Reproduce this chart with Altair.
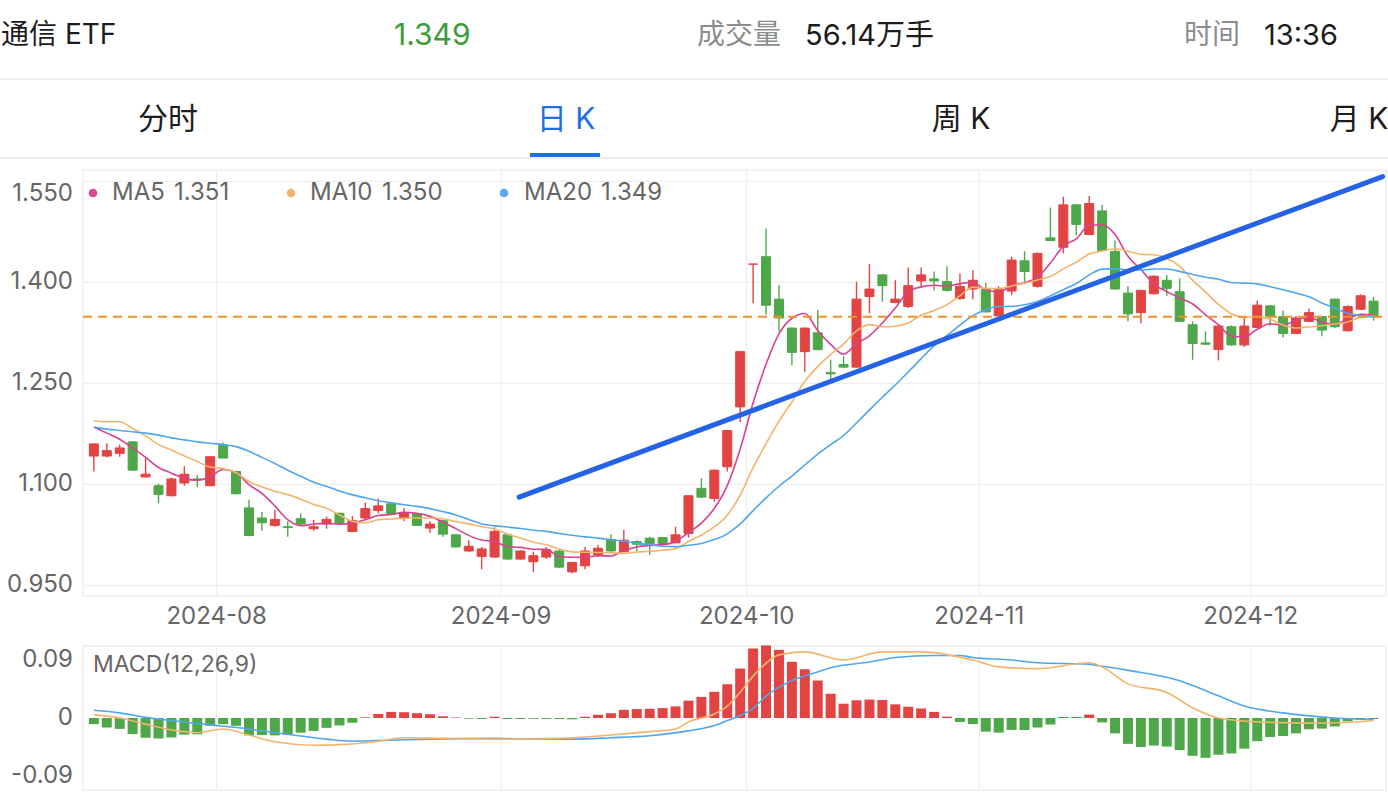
import altair as alt
import pandas as pd

W, H = 1388, 792
FONT = "Inter, Noto Sans CJK SC, sans-serif"
RED = "#e24343"
GREEN = "#4ea84a"
GRID = "#ebebeb"
LABEL = "#666666"

# ---------------- data ----------------
opens = [1.142, 1.142, 1.146, 1.163, 1.111, 1.098, 1.083, 1.102, 1.108, 1.098,
         1.158, 1.119, 1.065, 1.050, 1.039, 1.037, 1.049, 1.034, 1.041, 1.057,
         1.030, 1.050, 1.061, 1.071, 1.050, 1.056, 1.035, 1.046, 1.025, 1.001,
         0.993, 0.992, 1.025, 0.989, 0.985, 0.992, 1.001, 0.970, 0.979, 0.995,
         1.018, 1.000, 1.015, 1.020, 1.021, 1.013, 1.027, 1.094, 1.079, 1.126,
         1.215, 1.427, 1.438, 1.375, 1.332, 1.297, 1.325, 1.266, 1.278, 1.274,
         1.379, 1.411, 1.370, 1.364, 1.402, 1.405, 1.401, 1.376, 1.390, 1.389,
         1.350, 1.387, 1.432, 1.394, 1.466, 1.452, 1.515, 1.471, 1.506, 1.446,
         1.384, 1.355, 1.383, 1.403, 1.386, 1.337, 1.310, 1.300, 1.334, 1.307,
         1.333, 1.365, 1.349, 1.324, 1.342, 1.349, 1.375, 1.328, 1.360, 1.372]
highs = [1.160, 1.161, 1.159, 1.164, 1.139, 1.101, 1.110, 1.127, 1.114, 1.141,
         1.162, 1.120, 1.077, 1.059, 1.062, 1.045, 1.057, 1.047, 1.052, 1.058,
         1.053, 1.073, 1.079, 1.072, 1.065, 1.057, 1.045, 1.047, 1.026, 1.017,
         1.007, 1.036, 1.027, 1.002, 1.000, 1.007, 1.003, 0.984, 1.007, 1.010,
         1.026, 1.032, 1.017, 1.022, 1.022, 1.037, 1.083, 1.109, 1.122, 1.180,
         1.297, 1.427, 1.480, 1.396, 1.333, 1.333, 1.359, 1.285, 1.290, 1.401,
         1.427, 1.412, 1.403, 1.422, 1.422, 1.416, 1.424, 1.413, 1.418, 1.399,
         1.394, 1.438, 1.446, 1.444, 1.511, 1.527, 1.516, 1.528, 1.515, 1.462,
         1.394, 1.388, 1.410, 1.411, 1.406, 1.342, 1.327, 1.336, 1.336, 1.347,
         1.373, 1.366, 1.358, 1.350, 1.361, 1.350, 1.376, 1.366, 1.382, 1.378]
lows = [1.119, 1.140, 1.141, 1.121, 1.110, 1.072, 1.082, 1.098, 1.096, 1.097,
        1.139, 1.085, 1.023, 1.031, 1.037, 1.022, 1.038, 1.031, 1.034, 1.041,
        1.029, 1.049, 1.057, 1.054, 1.045, 1.038, 1.028, 1.022, 1.006, 1.000,
        0.974, 0.991, 0.988, 0.988, 0.970, 0.989, 0.976, 0.968, 0.974, 0.992,
        1.000, 0.999, 1.001, 0.995, 1.010, 1.013, 1.021, 1.080, 1.074, 1.119,
        1.192, 1.369, 1.352, 1.327, 1.277, 1.267, 1.299, 1.256, 1.273, 1.273,
        1.354, 1.371, 1.369, 1.362, 1.394, 1.388, 1.386, 1.374, 1.375, 1.355,
        1.349, 1.381, 1.401, 1.392, 1.461, 1.443, 1.470, 1.470, 1.446, 1.389,
        1.342, 1.339, 1.382, 1.380, 1.341, 1.285, 1.307, 1.284, 1.306, 1.304,
        1.332, 1.335, 1.318, 1.323, 1.341, 1.320, 1.332, 1.327, 1.359, 1.343]
closes = [1.160, 1.150, 1.154, 1.121, 1.115, 1.085, 1.108, 1.115, 1.107, 1.141,
          1.139, 1.086, 1.024, 1.043, 1.048, 1.036, 1.041, 1.037, 1.048, 1.042,
          1.046, 1.064, 1.068, 1.056, 1.058, 1.039, 1.041, 1.026, 1.007, 1.008,
          1.004, 1.030, 0.989, 1.001, 0.994, 1.003, 0.977, 0.984, 1.001, 1.005,
          1.001, 1.017, 1.011, 1.012, 1.011, 1.025, 1.083, 1.081, 1.121, 1.180,
          1.297, 1.427, 1.366, 1.347, 1.296, 1.332, 1.300, 1.264, 1.274, 1.375,
          1.390, 1.395, 1.375, 1.395, 1.411, 1.402, 1.388, 1.394, 1.403, 1.356,
          1.389, 1.433, 1.416, 1.443, 1.462, 1.515, 1.486, 1.517, 1.447, 1.390,
          1.353, 1.388, 1.409, 1.391, 1.342, 1.309, 1.308, 1.335, 1.307, 1.335,
          1.366, 1.349, 1.324, 1.347, 1.355, 1.329, 1.334, 1.364, 1.380, 1.349]

ma5_head = [1.185, 1.176, 1.167, 1.154]
ma10_head = [1.194, 1.193, 1.193, 1.183, 1.172, 1.159, 1.151, 1.142, 1.134]
ma20_head = [1.185, 1.182, 1.180, 1.178, 1.176, 1.173, 1.169, 1.166, 1.163, 1.161,
             1.159, 1.156, 1.149, 1.140, 1.131, 1.121, 1.112, 1.103, 1.097]

month_labels = ["2024-08", "2024-09", "2024-10", "2024-11", "2024-12"]
month_start = [10, 32, 51, 69, 90]

price_ticks = [0.950, 1.100, 1.250, 1.400, 1.550]
price_tick_labels = ["0.950", "1.100", "1.250", "1.400", "1.550"]
last_price = 1.349

trend_idx = [32.9, 99.7]
trend_price = [1.081, 1.557]

macd_hist = [-0.0095, -0.0148, -0.0169, -0.0249, -0.0307, -0.0318, -0.0302, -0.0259, -0.0254, -0.0122,
             -0.0095, -0.0122, -0.0270, -0.0265, -0.0270, -0.0254, -0.0228, -0.0201, -0.0153, -0.0116,
             -0.0074, 0.0011, 0.0063, 0.0095, 0.0090, 0.0074, 0.0058, 0.0026, 0.0008, -0.0010,
             -0.0015, 0.0020, -0.0015, -0.0015, -0.0012, -0.0015, -0.0015, -0.0020, 0.0020, 0.0050,
             0.0074, 0.0127, 0.0138, 0.0143, 0.0153, 0.0180, 0.0270, 0.0328, 0.0407, 0.0524,
             0.0767, 0.1079, 0.1127, 0.1058, 0.0873, 0.0757, 0.0582, 0.0376, 0.0222, 0.0275,
             0.0286, 0.0280, 0.0212, 0.0175, 0.0148, 0.0095, 0.0021, -0.0063, -0.0095, -0.0212,
             -0.0227, -0.0185, -0.0185, -0.0148, -0.0101, 0.0016, 0.0016, 0.0053, -0.0069, -0.0238,
             -0.0402, -0.0450, -0.0428, -0.0444, -0.0497, -0.0587, -0.0619, -0.0571, -0.0550, -0.0476,
             -0.0360, -0.0296, -0.0280, -0.0238, -0.0175, -0.0164, -0.0132, -0.0053, -0.0026, -0.0016]

dif_idx = [0, 2, 4, 6, 8, 10, 12, 14, 17, 19, 22, 24, 27, 31, 36, 40, 43, 45, 46, 48, 49, 50, 51,
           52, 53, 55, 58, 61, 64, 68, 70, 73, 77, 78, 80, 83, 85, 87, 90, 94, 97, 99]
dif_val = [0.0053, 0.0000, -0.0095, -0.0185, -0.0228, -0.0170, -0.0265, -0.0370, -0.0423, -0.0413,
           -0.0360, -0.0307, -0.0317, -0.0328, -0.0317, -0.0265, -0.0212, -0.0170, -0.0060, 0.0063,
           0.0185, 0.0400, 0.0650, 0.0850, 0.0980, 0.1026, 0.0900, 0.1026, 0.1026, 0.0900,
           0.0794, 0.0767, 0.0857, 0.0794, 0.0530, 0.0397, 0.0160, 0.0000, -0.0060, -0.0080,
           -0.0070, -0.0040]
dea_idx = [0, 2, 4, 6, 8, 10, 12, 14, 16, 18, 20, 22, 26, 31, 34, 37, 40, 43, 46, 48, 49, 50, 51,
           52, 54, 56, 57, 60, 62, 65, 67, 68, 71, 73, 77, 78, 80, 84, 87, 89, 92, 96, 99]
dea_val = [0.0120, 0.0080, 0.0010, -0.0040, -0.0085, -0.0127, -0.0170, -0.0228, -0.0280, -0.0328,
           -0.0360, -0.0350, -0.0328, -0.0317, -0.0328, -0.0328, -0.0307, -0.0275, -0.0200, -0.0116,
           -0.0040, 0.0040, 0.0150, 0.0340, 0.0580, 0.0714, 0.0780, 0.0870, 0.0940, 0.0970,
           0.0970, 0.0940, 0.0900, 0.0857, 0.0836, 0.0804, 0.0740, 0.0580, 0.0344, 0.0185,
           0.0079, 0.0000, -0.0026]
macd_ticks = [0.09, 0.0, -0.09]
macd_tick_labels = ["0.09", "0", "-0.09"]

ma_names = ["MA5", "MA10", "MA20"]
ma_values = ["1.351", "1.350", "1.349"]
ma_colors = ["#d9418f", "#f2b46a", "#4fa6ef"]
ma_dot_colors = ["#e0468c", "#f0b470", "#5aaaf0"]

header_name = "通信 ETF"
header_price = "1.349"
header_vol_label = "成交量"
header_vol = "56.14万手"
header_time_label = "时间"
header_time = "13:36"
tabs = ["分时", "日 K", "周 K", "月 K"]

# ---------------- tables ----------------
n = len(closes)
candles = pd.DataFrame({
    "i": list(range(n)), "open": opens, "high": highs, "low": lows, "close": closes,
    "ma5_head": ma5_head + [None] * (n - len(ma5_head)),
    "ma10_head": ma10_head + [None] * (n - len(ma10_head)),
    "ma20_head": ma20_head + [None] * (n - len(ma20_head)),
})
macd_df = pd.DataFrame({"i": list(range(n)), "hist": macd_hist})
dif_df = pd.DataFrame({"i": dif_idx, "v": dif_val})
dea_df = pd.DataFrame({"i": dea_idx, "v": dea_val})
months_df = pd.DataFrame({"start": month_start, "label": month_labels})
pticks_df = pd.DataFrame({"v": price_ticks, "label": price_tick_labels})
mticks_df = pd.DataFrame({"v": macd_ticks, "label": macd_tick_labels})
trend_df = pd.DataFrame({"i": trend_idx, "p": trend_price})
last_df = pd.DataFrame({"p": [last_price]})
one = pd.DataFrame({"k": [0]})

# ---------------- scales ----------------
XS = alt.Scale(domain=[-6.875, 99.73], nice=False, zero=False)
PS = alt.Scale(domain=[0.6431, 1.8192], nice=False, zero=False)
MS = alt.Scale(domain=[-0.11491, 1.11491], nice=False, zero=False)
DIRS = alt.Scale(domain=["up", "down"], range=[RED, GREEN])


def xq(field):
    return alt.X(field, type="quantitative", scale=XS, axis=None)


def py(field):
    return alt.Y(field, type="quantitative", scale=PS, axis=None)


def my(field):
    return alt.Y(field, type="quantitative", scale=MS, axis=None)


def txt(s, x, y, size=24, color=LABEL, align="left", weight="normal"):
    return alt.Chart(pd.DataFrame({"t": [s]})).mark_text(
        align=align, baseline="middle", fontSize=size, color=color, font=FONT, fontWeight=weight
    ).encode(x=alt.value(x), y=alt.value(y), text="t:N")


def hline(y, x1, x2, color, width):
    return alt.Chart(one).mark_rule(color=color, strokeWidth=width).encode(
        x=alt.value(x1), x2=alt.value(x2), y=alt.value(y))


layers = []

# header
layers += [
    txt(header_name, 1, 36, 28, "#1c1c1c"),
    txt(header_price, 394, 36, 30, "#3c9b3c"),
    txt(header_vol_label, 697, 36, 28, "#8c8c8c"),
    txt(header_vol, 805, 36, 29, "#1c1c1c"),
    txt(header_time_label, 1184, 36, 28, "#8c8c8c"),
    txt(header_time, 1264, 36, 29, "#1c1c1c"),
    hline(79, 0, W, "#efefef", 2),
    txt(tabs[0], 168, 120, 30, "#1c1c1c", "center"),
    txt(tabs[1], 566, 120, 30, "#1f6fe5", "center"),
    txt(tabs[2], 961, 120, 30, "#1c1c1c", "center"),
    txt(tabs[3], 1359, 120, 30, "#1c1c1c", "center"),
    hline(158, 0, W, "#efefef", 2),
    alt.Chart(one).mark_rect(color="#1f6fe5").encode(
        x=alt.value(530), x2=alt.value(600), y=alt.value(153), y2=alt.value(157)),
]

# panel frames and grid
for (t, b) in [(170, 596), (646, 790)]:
    layers.append(alt.Chart(one).mark_rect(fillOpacity=0, stroke="#e4e4e4", strokeWidth=1).encode(
        x=alt.value(83), x2=alt.value(1386), y=alt.value(t), y2=alt.value(b)))
    layers.append(alt.Chart(months_df).transform_calculate(pos="datum.start - 0.5").mark_rule(
        color=GRID, strokeWidth=1).encode(x=xq("pos"), y=alt.value(t), y2=alt.value(b)))

layers.append(alt.Chart(pticks_df).mark_rule(color=GRID, strokeWidth=1).encode(
    y=py("v"), x=alt.value(83), x2=alt.value(1386)))

# axis labels
layers.append(alt.Chart(pticks_df).transform_filter("datum.v < 1.5").mark_text(
    align="right", baseline="middle", fontSize=24, color=LABEL, font=FONT).encode(
    x=alt.value(73), y=py("v"), text="label:N"))
layers.append(alt.Chart(pticks_df).transform_filter("datum.v >= 1.5").mark_text(
    align="right", baseline="middle", fontSize=24, color=LABEL, font=FONT, dy=13).encode(
    x=alt.value(73), y=py("v"), text="label:N"))
layers.append(alt.Chart(months_df).transform_calculate(pos="datum.start - 0.5").mark_text(
    align="center", baseline="middle", fontSize=24, color=LABEL, font=FONT).encode(
    x=xq("pos"), y=alt.value(617), text="label:N"))
layers.append(alt.Chart(mticks_df).mark_text(
    align="right", baseline="middle", fontSize=24, color=LABEL, font=FONT).encode(
    x=alt.value(73), y=my("v"), text="label:N"))

# candles
cbase = alt.Chart(candles).transform_calculate(
    dir="datum.close >= datum.open ? 'up' : 'down'")
layers.append(cbase.mark_rule(strokeWidth=1.4).encode(
    x=xq("i"), y=py("low"), y2="high:Q",
    color=alt.Color("dir:N", scale=DIRS, legend=None)))
layers.append(cbase.mark_bar(size=9, strokeWidth=1).encode(
    x=xq("i"), y=py("open"), y2="close:Q",
    color=alt.Color("dir:N", scale=DIRS, legend=None),
    stroke=alt.Stroke("dir:N", scale=DIRS, legend=None)))

# moving averages
for k, col, head in [(5, ma_colors[0], "ma5_head"), (10, ma_colors[1], "ma10_head"),
                     (20, ma_colors[2], "ma20_head")]:
    ma = alt.Chart(candles).transform_window(
        window=[alt.WindowFieldDef(op="mean", field="close", **{"as": "mac"}),
                alt.WindowFieldDef(op="count", **{"as": "cnt"})],
        frame=[-(k - 1), 0], sort=[alt.SortField("i")]
    ).transform_calculate(
        ma=f"datum.cnt < {k} ? datum.{head} : datum.mac"
    ).mark_line(interpolate="monotone", strokeWidth=1.6, color=col).encode(
        x=xq("i"), y=py("ma"))
    layers.append(ma)

# current price dashed line
layers.append(alt.Chart(last_df).mark_rule(color="#f0922f", strokeWidth=2, strokeDash=[9, 6]).encode(
    y=py("p"), x=alt.value(83), x2=alt.value(1386)))

# trend line
layers.append(alt.Chart(trend_df).mark_line(color="#2463e6", strokeWidth=5, strokeCap="round").encode(
    x=xq("i"), y=py("p")))

# MA legend
dot_x = [93, 291, 504]
name_x = [112, 310, 524]
val_x = [174, 382, 601]
for j in range(3):
    layers.append(alt.Chart(one).mark_circle(size=75, color=ma_dot_colors[j], opacity=1).encode(
        x=alt.value(dot_x[j]), y=alt.value(193)))
    layers.append(txt(ma_names[j], name_x[j], 193, 24, LABEL))
    layers.append(txt(ma_values[j], val_x[j], 193, 24, LABEL))

# MACD
layers.append(alt.Chart(macd_df).transform_calculate(
    dir="datum.hist >= 0 ? 'up' : 'down'", zero="0").mark_bar(size=10).encode(
    x=xq("i"), y=my("hist"), y2="zero:Q",
    color=alt.Color("dir:N", scale=DIRS, legend=None)))
layers.append(alt.Chart(dea_df).mark_line(interpolate="monotone", strokeWidth=1.6, color="#4fa6ef").encode(
    x=xq("i"), y=my("v")))
layers.append(alt.Chart(dif_df).mark_line(interpolate="monotone", strokeWidth=1.6, color="#f2b46a").encode(
    x=xq("i"), y=my("v")))
layers.append(txt("MACD(12,26,9)", 93, 665, 23, LABEL))

chart = alt.layer(*layers).resolve_scale(y="independent").properties(
    width=W, height=H, autosize=alt.AutoSizeParams(type="none"), padding=0,
    background="white"
).configure_view(stroke=None, strokeWidth=0)

chart.save("out.html", embed_options={"renderer": "svg", "actions": False})
